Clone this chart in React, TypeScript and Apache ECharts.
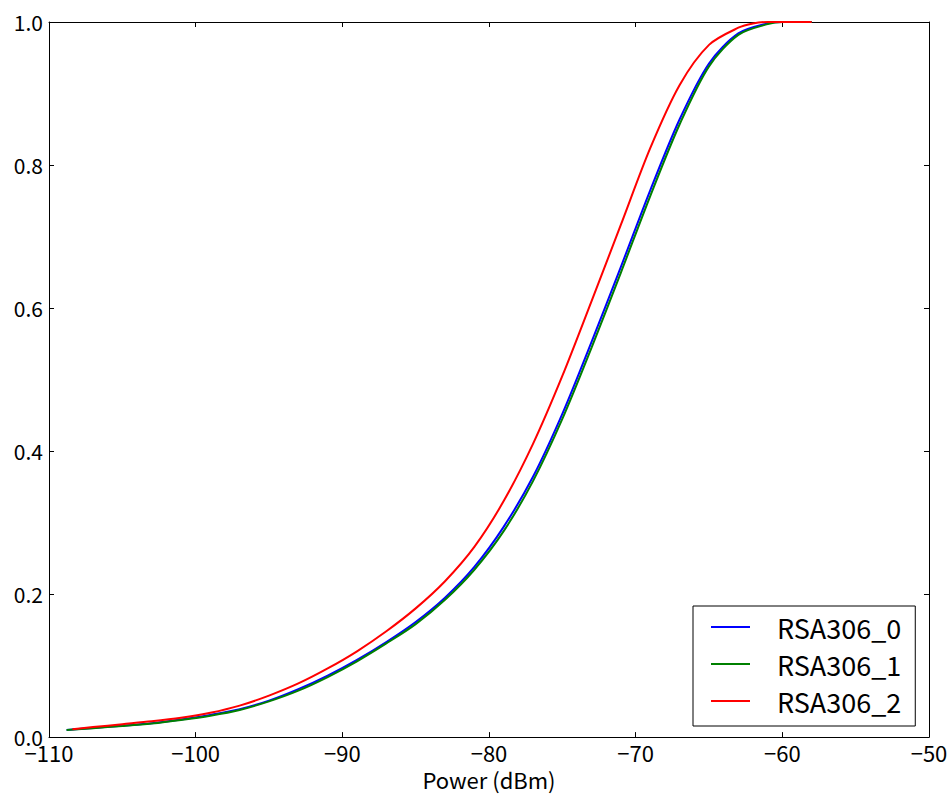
import React, { useEffect, useRef } from "react";
import * as echarts from "echarts";

const seriesNames = ["RSA306_0", "RSA306_1", "RSA306_2"];
const seriesColors = ["#0000ff", "#008000", "#ff0000"];

const xBlue = [-108.8, -107, -105, -103, -101, -99, -97, -95, -93, -91, -89, -87, -85, -83, -81, -79, -77, -75, -73, -71, -69, -67, -65, -63, -61, -60, -58];
const yBlue = [0.010, 0.0128, 0.016, 0.0195, 0.0245, 0.031, 0.039, 0.051, 0.067, 0.086, 0.108, 0.133, 0.161, 0.195, 0.238, 0.294, 0.364, 0.452, 0.553, 0.658, 0.765, 0.864, 0.942, 0.984, 0.998, 1.0, 1.0];

const xGreen = [-108.8, -107, -105, -103, -101, -99, -97, -95, -93, -91, -89, -87, -85, -83, -81, -79, -77, -75, -73, -71, -69, -67, -65, -63, -61, -60, -58];
const yGreen = [0.010, 0.0125, 0.0155, 0.019, 0.024, 0.030, 0.038, 0.050, 0.065, 0.084, 0.106, 0.131, 0.158, 0.192, 0.234, 0.288, 0.358, 0.445, 0.545, 0.650, 0.757, 0.857, 0.938, 0.982, 0.997, 1.0, 1.0];

const xRed = [-108.4, -107, -105, -103, -101, -99, -97, -95, -93, -91, -89, -87, -85, -83, -81, -79, -77, -75, -73, -71, -69, -67, -65, -63, -62, -61, -58];
const yRed = [0.011, 0.014, 0.018, 0.022, 0.027, 0.034, 0.044, 0.058, 0.075, 0.096, 0.120, 0.148, 0.180, 0.218, 0.266, 0.330, 0.410, 0.505, 0.610, 0.717, 0.824, 0.912, 0.968, 0.992, 0.998, 1.0, 1.0];

const xTicks = { min: -110, max: -50, interval: 10 };
const yTicks = { min: 0, max: 1, interval: 0.2 };

const FONT = '"Noto Sans CJK JP", "Noto Sans", "DejaVu Sans", sans-serif';

export default function App() {
  const ref = useRef<HTMLDivElement>(null);
  useEffect(() => {
    if (!ref.current) return;
    const chart = echarts.init(ref.current, null, { renderer: "svg" });
    const xs = [xBlue, xGreen, xRed];
    const ys = [yBlue, yGreen, yRed];
    const series = seriesNames.map((name, i) => ({
      name,
      type: "line",
      xAxisIndex: 0,
      yAxisIndex: 0,
      data: xs[i].map((x, j) => [x, ys[i][j]]),
      showSymbol: false,
      smooth: 0.3,
      lineStyle: { color: seriesColors[i], width: 2 },
      itemStyle: { color: seriesColors[i] },
      clip: true,
    }));
    const axisLineStyle = { show: true, onZero: false, lineStyle: { color: "#000", width: 1 } };
    const tickStyle = { show: true, inside: true, length: 5, lineStyle: { color: "#000", width: 1 } };
    const fmtMinus = (v: number) => (v < 0 ? "\u2212" + Math.abs(v) : String(v));
    chart.setOption({
      animation: false,
      backgroundColor: "#fff",
      textStyle: { fontFamily: FONT },
      grid: { left: 49, right: 23, top: 22, bottom: 56, containLabel: false },
      legend: {
        show: true,
        data: seriesNames,
        orient: "vertical",
        left: 693,
        top: 606,
        backgroundColor: "#fff",
        borderColor: "#000",
        borderWidth: 1,
        borderRadius: 0,
        padding: [6, 14, 10, 18],
        itemWidth: 39,
        itemHeight: 2,
        itemGap: 7,
        icon: "rect",
        textStyle: { fontFamily: FONT, fontSize: 27, color: "#000", lineHeight: 30, padding: [0, 0, 0, 22] },
      },
      xAxis: [
        {
          type: "value",
          position: "bottom",
          ...xTicks,
          name: "Power (dBm)",
          nameLocation: "middle",
          nameGap: 38,
          nameTextStyle: { fontFamily: FONT, fontSize: 22, color: "#000", verticalAlign: "middle" },
          axisLine: axisLineStyle,
          axisTick: tickStyle,
          splitLine: { show: false },
          axisLabel: { fontFamily: FONT, fontSize: 22, color: "#000", margin: 4, formatter: fmtMinus },
        },
        {
          type: "value",
          position: "top",
          ...xTicks,
          axisLine: axisLineStyle,
          axisTick: tickStyle,
          splitLine: { show: false },
          axisLabel: { show: false },
        },
      ],
      yAxis: [
        {
          type: "value",
          position: "left",
          ...yTicks,
          axisLine: axisLineStyle,
          axisTick: tickStyle,
          splitLine: { show: false },
          axisLabel: { fontFamily: FONT, fontSize: 21, color: "#000", margin: 6, formatter: (v: number) => v.toFixed(1) },
        },
        {
          type: "value",
          position: "right",
          ...yTicks,
          axisLine: axisLineStyle,
          axisTick: tickStyle,
          splitLine: { show: false },
          axisLabel: { show: false },
        },
      ],
      series,
    });
    return () => chart.dispose();
  }, []);
  return <div ref={ref} style={{ position: "fixed", left: 0, top: 0, width: 952, height: 795, background: "#fff" }} />;
}
